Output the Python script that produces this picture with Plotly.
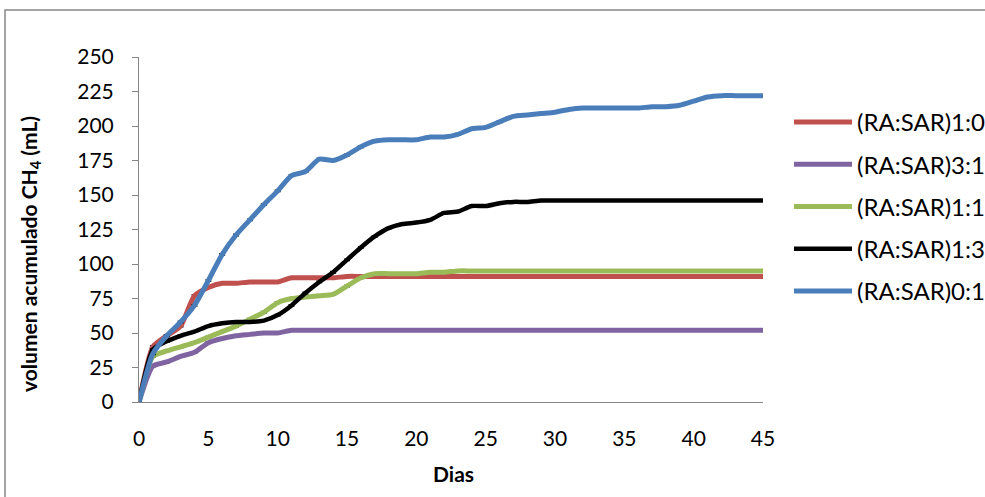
import plotly.graph_objects as go

dias = list(range(0, 46))

ra_sar_1_0 = [0, 40, 48, 55, 77, 83, 86, 86, 87, 87, 87, 90, 90, 90, 90, 91, 91, 91, 91, 91,
              91, 91, 91, 91, 91, 91, 91, 91, 91, 91, 91, 91, 91, 91, 91, 91, 91, 91, 91, 91,
              91, 91, 91, 91, 91, 91]
ra_sar_3_1 = [0, 26, 29, 33, 36, 43, 46, 48, 49, 50, 50, 52, 52, 52, 52, 52, 52, 52, 52, 52,
              52, 52, 52, 52, 52, 52, 52, 52, 52, 52, 52, 52, 52, 52, 52, 52, 52, 52, 52, 52,
              52, 52, 52, 52, 52, 52]
ra_sar_1_1 = [0, 33, 37, 40, 43, 47, 51, 55, 60, 65, 72, 75, 76, 77, 78, 84, 90, 93, 93, 93,
              93, 94, 94, 95, 95, 95, 95, 95, 95, 95, 95, 95, 95, 95, 95, 95, 95, 95, 95, 95,
              95, 95, 95, 95, 95, 95]
ra_sar_1_3 = [0, 38, 44, 48, 51, 55, 57, 58, 58, 59, 63, 70, 79, 87, 94, 103, 112, 120, 126, 129,
              130, 132, 137, 138, 142, 142, 144, 145, 145, 146, 146, 146, 146, 146, 146, 146, 146, 146, 146, 146,
              146, 146, 146, 146, 146, 146]
ra_sar_0_1 = [0, 35, 48, 58, 70, 88, 107, 121, 132, 143, 153, 164, 167, 176, 175, 179, 185, 189, 190, 190,
              190, 192, 192, 194, 198, 199, 203, 207, 208, 209, 210, 212, 213, 213, 213, 213, 213, 214, 214, 215,
              218, 221, 222, 222, 222, 222]

series_names = ["(RA:SAR)1:0", "(RA:SAR)3:1", "(RA:SAR)1:1", "(RA:SAR)1:3", "(RA:SAR)0:1"]
series_values = [ra_sar_1_0, ra_sar_3_1, ra_sar_1_1, ra_sar_1_3, ra_sar_0_1]
colors = ["#C0504D", "#8064A2", "#9BBB59", "#000000", "#4A7EBB"]
widths = [5, 5, 5, 4.5, 5]

x_ticks = [0, 5, 10, 15, 20, 25, 30, 35, 40, 45]
y_ticks = [0, 25, 50, 75, 100, 125, 150, 175, 200, 225, 250]

FONT = "Lato"

fig = go.Figure()
for i, (name, vals, col, w) in enumerate(zip(series_names, series_values, colors, widths)):
    fig.add_trace(go.Scatter(
        x=dias, y=vals, name=name, mode="lines",
        line=dict(color=col, width=w, shape="spline", smoothing=0.6),
        error_y=dict(type="constant", value=0.6, color="black", thickness=1.2, width=3),
        legendgroup=f"g{i}",
    ))

W, H = 985, 497
L, R, T, B = 139, 222, 57, 95
pw, ph = W - L - R, H - T - B

def px(xp):
    return (xp - L) / pw

def py(yp):
    return (H - B - yp) / ph

fig.update_layout(
    width=W, height=H,
    margin=dict(l=L, r=R, t=T, b=B, autoexpand=False),
    paper_bgcolor="white", plot_bgcolor="white",
    font=dict(family=FONT, size=21, color="black"),
    showlegend=True,
    legend=dict(
        x=px(789), y=py(100), xanchor="left", yanchor="top",
        font=dict(family=FONT, size=24, color="black"),
        tracegroupgap=8, traceorder="grouped", itemwidth=58,
        bgcolor="rgba(0,0,0,0)",
    ),
    xaxis=dict(
        range=[0, 45], tickvals=x_ticks, ticktext=[str(v) for v in x_ticks],
        showgrid=False, zeroline=False, showline=True, linecolor="#868686", linewidth=1,
        ticks="", ticklabelstandoff=18,
        tickfont=dict(family=FONT, size=21, color="black"),
    ),
    yaxis=dict(
        range=[0, 250], tickvals=y_ticks, ticktext=[str(v) for v in y_ticks],
        showgrid=False, zeroline=False, showline=True, linecolor="#868686", linewidth=1,
        ticks="outside", ticklen=6, tickcolor="#868686", ticklabelstandoff=14,
        tickfont=dict(family=FONT, size=21, color="black"),
    ),
    annotations=[
        dict(text="<b>volumen acumulado CH<sub>4</sub> (mL)</b>", xref="paper", yref="paper",
             x=px(30), y=py(254), xanchor="center", yanchor="middle", textangle=-90,
             showarrow=False, font=dict(family=FONT, size=21, color="black")),
        dict(text="<b>Dias</b>", xref="paper", yref="paper",
             x=px(453), y=py(473), xanchor="center", yanchor="middle",
             showarrow=False, font=dict(family=FONT, size=21, color="black")),
    ],
    shapes=[
        dict(type="rect", xref="paper", yref="paper",
             x0=px(5), x1=px(1100), y0=py(600), y1=py(10),
             line=dict(color="#868686", width=1.5), fillcolor="rgba(0,0,0,0)", layer="below"),
    ],
)

fig.write_html("out.html", config={"displayModeBar": False},
               post_script="document.body.style.margin='0px';")
